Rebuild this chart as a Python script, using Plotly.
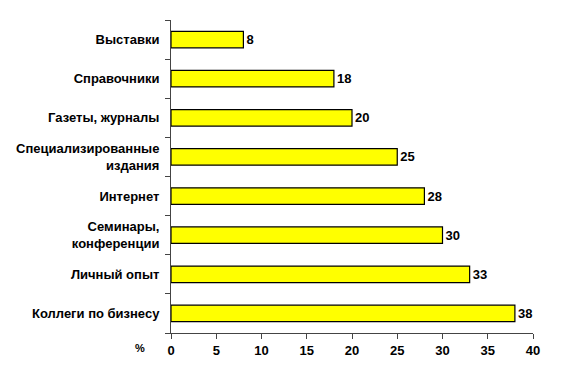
import plotly.graph_objects as go

categories = ["Коллеги по бизнесу", "Личный опыт", "Семинары,<br>конференции", "Интернет",
              "Специализированные<br>издания", "Газеты, журналы", "Справочники", "Выставки"]
values = [38, 33, 30, 28, 25, 20, 18, 8]
x_ticks = [0, 5, 10, 15, 20, 25, 30, 35, 40]

fig = go.Figure(go.Bar(
    x=values, y=categories, orientation="h",
    marker=dict(color="#FFFF00", line=dict(color="black", width=1.2)),
    width=0.42,
    text=[str(v) for v in values], textposition="outside",
    textfont=dict(family="Arial", size=13, color="black", weight="bold"),
    cliponaxis=False,
))

fig.update_layout(
    width=571, height=383,
    margin=dict(l=163, r=46, t=12, b=58, autoexpand=False),
    plot_bgcolor="white", paper_bgcolor="white",
    font=dict(family="Arial", size=12, color="black"),
    showlegend=False,
    xaxis=dict(range=[0, 40], tickvals=x_ticks, showgrid=False, zeroline=False,
               showline=True, linecolor="#444", linewidth=1, ticks="outside",
               ticklen=5, tickcolor="#444",
               tickfont=dict(family="Arial", size=13, weight="bold")),
    yaxis=dict(type="category", categoryorder="array", categoryarray=categories,
               showgrid=False, showline=True, linecolor="#444", linewidth=1,
               ticks="outside", tickson="boundaries", ticklen=5, tickcolor="#444",
               tickfont=dict(family="Arial", size=13, weight="bold"), ticklabelstandoff=8),
)

fig.add_annotation(text="<b>%</b>", xref="paper", yref="paper", x=-0.086, y=-0.048,
                   showarrow=False, font=dict(size=11), xanchor="center", yanchor="middle")

fig.write_html("out.html")
